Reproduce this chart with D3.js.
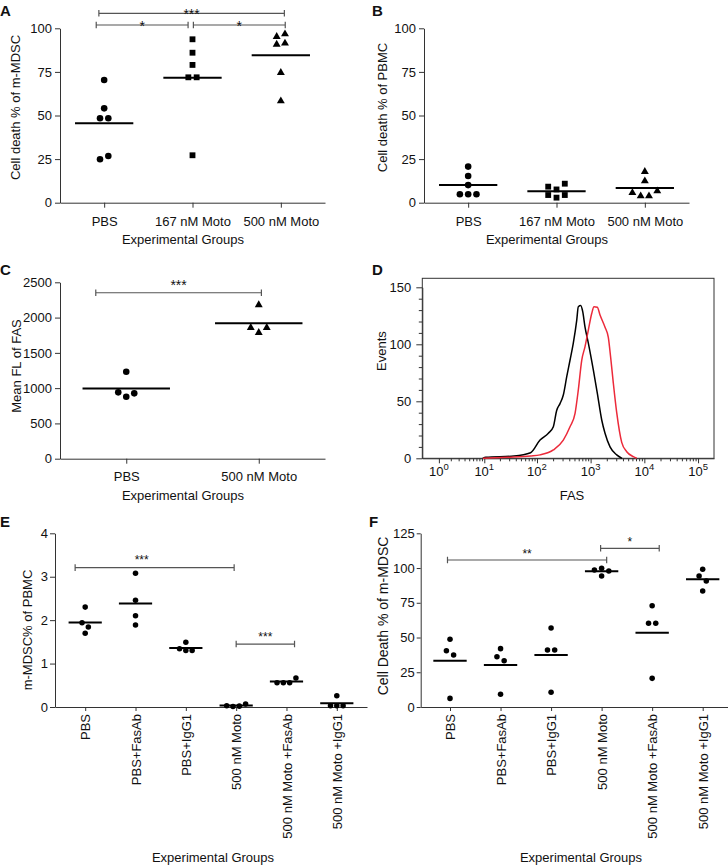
<!DOCTYPE html>
<html><head><meta charset="utf-8">
<script src="https://cdn.jsdelivr.net/npm/d3@7"></script>
<style>
body{margin:0;background:#fff;}
svg text{font-family:"Liberation Sans",Arial,Helvetica,sans-serif;fill:#111;}
</style></head><body>
<svg id="chart" width="728" height="866"></svg>
<script>
// ---------------- DATA ----------------
const groups3 = ["PBS", "167 nM Moto", "500 nM Moto"];
const groups2 = ["PBS", "500 nM Moto"];
const groups6 = ["PBS", "PBS+FasAb", "PBS+IgG1", "500 nM Moto", "500 nM Moto +FasAb", "500 nM Moto +IgG1"];

// A: Cell death % of m-MDSC
const aPBS = [70.4, 54.1, 48.4, 48.4, 24.9, 26.8];
const a167 = [93.7, 86.0, 79.0, 71.9, 71.9, 27.2];
const a500 = [95.2, 96.7, 90.8, 91.4, 74.6, 58.3];
const ticksPct = [0, 25, 50, 75, 100];
const bracketsA = [
  {a: "PBS", b: "500 nM Moto", v: 108.6, label: "***"},
  {a: "PBS", b: "167 nM Moto", v: 101.9, label: "*"},
  {a: "167 nM Moto", b: "500 nM Moto", v: 101.9, label: "*"}
];

// B: Cell death % of PBMC
const bPBS = [20.7, 15.3, 10.1, 4.8, 4.8, 4.8];
const b167 = [9.2, 7.6, 10.9, 4.4, 2.9, 4.4];
const b500 = [17.8, 12.4, 5.7, 3.8, 3.8, 6.7];

// C: Mean FL of FAS
const cPBS = [1233, 940, 879, 926];
const c500 = [2179, 1857, 1786, 1857];
const ticksC = [0, 500, 1000, 1500, 2000, 2500];
const bracketsC = [{a: "PBS", b: "500 nM Moto", v: 2352, label: "***"}];

// D: FAS histogram (FAS intensity, events)
const dBlackX = [9.4, 10.7, 37, 76, 114, 163, 202, 233, 269, 310, 359, 413, 476, 551, 590, 654, 713, 787, 907, 1123, 1334, 1610, 1855, 2298, 3062, 3843];
const dBlackY = [0, 0.9, 2, 4.9, 16, 22, 27.7, 42, 48, 55.5, 71.6, 86, 101, 121, 133, 134, 128.6, 115, 101, 77.5, 57, 33.6, 22, 10, 3, 0];
const dRedX = [9.4, 28, 76, 114, 202, 310, 413, 513, 590, 683, 787, 907, 1048, 1157, 1334, 1497, 1855, 2136, 2368, 2646, 3062, 3793, 4703, 6242, 7217];
const dRedY = [0, 0.9, 2, 3, 7.3, 16, 27.7, 39.5, 60, 86, 98, 112.5, 127, 133, 132.5, 125.7, 115, 106, 88, 66, 40, 14, 5.8, 1.4, 0];
const ticksD = [0, 50, 100, 150];
const decadesD = [1, 10, 100, 1000, 10000, 100000];

// E: m-MDSC% of PBMC
const ePBS = [2.30, 1.94, 1.84, 1.70];
const eFas = [3.08, 2.46, 2.10, 1.89];
const eIgG = [1.49, 1.34, 1.30, 1.30];
const eMoto = [0.03, 0.01, 0.02, 0.07];
const eMotoFas = [0.56, 0.56, 0.56, 0.67];
const eMotoIgG = [0.26, 0.03, 0.03, 0.03];
const ticksE = [0, 1, 2, 3, 4];
const bracketsE = [
  {a: "PBS", b: "500 nM Moto", v: 3.21, label: "***"},
  {a: "500 nM Moto", b: "500 nM Moto +FasAb", v: 1.45, label: "***"}
];

// F: Cell Death % of m-MDSC
const fPBS = [48.7, 40.5, 37.4, 6.2];
const fFas = [42.0, 36.2, 33.3, 9.1];
const fIgG = [56.9, 41.0, 41.0, 10.6];
const fMoto = [98.6, 99.8, 97.9, 94.3];
const fMotoFas = [72.9, 60.2, 60.2, 20.6];
const fMotoIgG = [99.1, 94.3, 90.7, 83.5];
const ticksF = [0, 25, 50, 75, 100, 125];
const bracketsF = [
  {a: "PBS", b: "500 nM Moto", v: 105.8, label: "**"},
  {a: "500 nM Moto", b: "500 nM Moto +FasAb", v: 114.2, label: "*"}
];

// ---------------- DRAWING ----------------
const svg = d3.select("#chart");
const FONT = '"Liberation Sans",Arial,Helvetica,sans-serif';
const AX = "#333";
const fmt = d3.format("d");

function styleAxis(g, fs) {
  g.attr("font-family", FONT).attr("font-size", fs);
  g.selectAll("path,line").attr("stroke", AX).attr("stroke-width", 1);
  g.selectAll("text").attr("fill", "#111").attr("font-size", fs);
}

function swarm(vals, y, gap, thr) {
  const idx = vals.map((v, i) => i).sort((a, b) => vals[b] - vals[a]);
  const off = new Array(vals.length).fill(0);
  let i = 0;
  while (i < idx.length) {
    const start = y(vals[idx[i]]);
    const cl = [idx[i]]; let j = i + 1;
    while (j < idx.length && Math.abs(y(vals[idx[j]]) - start) < thr) { cl.push(idx[j]); j++; }
    cl.sort((a, b) => a - b);
    cl.forEach((k, n) => off[k] = (n - (cl.length - 1) / 2) * gap);
    i = j;
  }
  return off;
}

function letter(t, x, y) {
  svg.append("text").attr("x", x).attr("y", y).attr("font-size", 15).attr("font-weight", "bold").text(t);
}

function dotPanel(o) {
  const g = svg.append("g");
  const y = d3.scaleLinear().domain([0, d3.max(o.ticks)]).range([o.bottom, o.top]);
  const x = d3.scalePoint().domain(o.cats).range([o.left, o.right]).padding(o.pad);
  const step = x.step();
  // axes
  const ya = g.append("g").attr("transform", `translate(${o.left},0)`)
    .call(d3.axisLeft(y).tickValues(o.ticks).tickFormat(fmt).tickSize(o.tickSize).tickSizeOuter(0).tickPadding(o.tickPadY));
  styleAxis(ya, o.fs);
  const xa = g.append("g").attr("transform", `translate(0,${o.bottom})`)
    .call(d3.axisBottom(x).tickSize(o.xTick).tickSizeOuter(0).tickPadding(o.tickPadX));
  styleAxis(xa, o.fs);
  if (o.rotate) {
    xa.selectAll(".tick text").attr("transform", "rotate(-90)").attr("text-anchor", "end")
      .attr("x", -(o.xTick + o.tickPadX)).attr("y", 0).attr("dy", "0.35em");
  }
  // points and means
  o.series.forEach((s, i) => {
    const cx = x(o.cats[i]);
    const off = swarm(s.vals, y, o.gap, 6);
    g.selectAll(null).data(s.vals).enter().append("path")
      .attr("d", d3.symbol().type(s.shape).size(s.shape === d3.symbolTriangle ? o.msize * 0.8 : o.msize))
      .attr("transform", (v, k) => `translate(${cx + off[k]},${y(v)})`)
      .attr("fill", "#000");
    const m = d3.mean(s.vals);
    g.append("line").attr("x1", cx - step * 0.33).attr("x2", cx + step * 0.33)
      .attr("y1", y(m)).attr("y2", y(m)).attr("stroke", "#000").attr("stroke-width", 2);
  });
  // brackets
  (o.brackets || []).forEach((b, i) => {
    const nd = o.nudges[i];
    const x1 = x(b.a) + nd[0] * step, x2 = x(b.b) + nd[1] * step, yy = y(b.v);
    g.append("path").attr("d", `M${x1},${yy - 3.3}V${yy + 3.3}M${x1},${yy}H${x2}M${x2},${yy - 3.3}V${yy + 3.3}`)
      .attr("stroke", "#555").attr("stroke-width", 1.2).attr("fill", "none");
    g.append("text").attr("x", (x1 + x2) / 2 + (nd[2] || 0)).attr("y", yy + o.starDy)
      .attr("text-anchor", "middle").attr("font-size", o.starFs).text(b.label);
  });
  // titles
  g.append("text").attr("transform", `translate(${o.yt[1]},${o.yt[2]}) rotate(-90)`)
    .attr("text-anchor", "middle").attr("dy", "0.35em").attr("font-size", o.yt[3]).text(o.yt[0]);
  g.append("text").attr("x", o.xt[0]).attr("y", o.xt[1]).attr("text-anchor", "middle")
    .attr("font-size", 13).text("Experimental Groups");
}

// Panel A
dotPanel({left: 60, right: 325, top: 28.3, bottom: 202.7, ticks: ticksPct, cats: groups3, pad: 0.5,
  series: [{vals: aPBS, shape: d3.symbolCircle}, {vals: a167, shape: d3.symbolSquare}, {vals: a500, shape: d3.symbolTriangle}],
  gap: 8.3, msize: 34, fs: 13, tickSize: 5, tickPadY: 3, xTick: 5, tickPadX: 9,
  brackets: bracketsA, nudges: [[-0.06, 0.04], [-0.09, -0.05], [0.01, 0.05]], starDy: 6, starFs: 14,
  yt: ["Cell death % of m-MDSC", 15.5, 107.5, 13], xt: [183, 243.5]});
letter("A", 0, 16);

// Panel B
dotPanel({left: 424, right: 689, top: 28.3, bottom: 202.7, ticks: ticksPct, cats: groups3, pad: 0.5,
  series: [{vals: bPBS, shape: d3.symbolCircle}, {vals: b167, shape: d3.symbolSquare}, {vals: b500, shape: d3.symbolTriangle}],
  gap: 8.3, msize: 34, fs: 13, tickSize: 5, tickPadY: 3, xTick: 5, tickPadX: 9,
  yt: ["Cell death % of PBMC", 382, 107.5, 13], xt: [547, 243.5]});
letter("B", 372, 16);

// Panel C
dotPanel({left: 60, right: 325, top: 282.3, bottom: 458.7, ticks: ticksC, cats: groups2, pad: 0.5,
  series: [{vals: cPBS, shape: d3.symbolCircle}, {vals: c500, shape: d3.symbolTriangle}],
  gap: 8, msize: 34, fs: 13, tickSize: 5, tickPadY: 3, xTick: 5, tickPadX: 8,
  brackets: bracketsC, nudges: [[-0.23, 0.02]], starDy: -3, starFs: 14,
  yt: ["Mean FL of FAS", 16.5, 366, 13], xt: [183, 500]});
letter("C", 0, 275);

// Panel D
(function () {
  const g = svg.append("g");
  const L = 422.3, R = 714, T = 278.3, B = 458.3;
  const x = d3.scaleSymlog().constant(0.5).domain([0.237, 198000]).range([L, R]);
  const y = d3.scaleLinear().domain([0, 150]).range([B, 287.3]);
  g.append("rect").attr("x", L).attr("y", T).attr("width", R - L).attr("height", B - T)
    .attr("fill", "none").attr("stroke", AX).attr("stroke-width", 1);
  const minorY = d3.range(0, 151, 10).filter(v => v % 50 !== 0);
  const ya = g.append("g").attr("transform", `translate(${L},0)`)
    .call(d3.axisLeft(y).tickValues(ticksD).tickFormat(fmt).tickSize(6).tickSizeOuter(0).tickPadding(5));
  styleAxis(ya, 13);
  const yb = g.append("g").attr("transform", `translate(${L},0)`)
    .call(d3.axisLeft(y).tickValues(minorY).tickSize(3.5).tickSizeOuter(0).tickFormat(""));
  styleAxis(yb, 13); yb.select(".domain").remove();
  const minorX = [];
  decadesD.forEach(d => { for (let k = 2; k <= 9; k++) if (d * k < 198000) minorX.push(d * k); });
  const xb = g.append("g").attr("transform", `translate(0,${B})`)
    .call(d3.axisBottom(x).tickValues(minorX).tickSize(3).tickSizeOuter(0).tickFormat(""));
  styleAxis(xb, 13); xb.select(".domain").remove();
  const xa = g.append("g").attr("transform", `translate(0,${B})`)
    .call(d3.axisBottom(x).tickValues(decadesD).tickSize(5).tickSizeOuter(0).tickFormat(""));
  styleAxis(xa, 13);
  decadesD.forEach(d => {
    const t = g.append("text").attr("x", x(d)).attr("y", 475.5).attr("text-anchor", "middle").attr("font-size", 13);
    t.append("tspan").text("10");
    t.append("tspan").attr("dy", -6).attr("font-size", 9.5).text(String(Math.round(Math.log10(d))));
  });
  const line = d3.line().x(p => x(p[0])).y(p => y(p[1])).curve(d3.curveMonotoneX);
  g.append("path").attr("d", line(dBlackX.map((v, i) => [v, dBlackY[i]])))
    .attr("fill", "none").attr("stroke", "#000").attr("stroke-width", 1.5);
  g.append("path").attr("d", line(dRedX.map((v, i) => [v, dRedY[i]])))
    .attr("fill", "none").attr("stroke", "#ec2a3a").attr("stroke-width", 1.5);
  g.append("text").attr("transform", "translate(381.5,351) rotate(-90)").attr("text-anchor", "middle")
    .attr("dy", "0.35em").attr("font-size", 13).text("Events");
  g.append("text").attr("x", 572).attr("y", 500).attr("text-anchor", "middle").attr("font-size", 13).text("FAS");
})();
letter("D", 372, 275);

// Panel E
dotPanel({left: 55, right: 367, top: 533.3, bottom: 707, ticks: ticksE, cats: groups6, pad: 0.6, rotate: true,
  series: [ePBS, eFas, eIgG, eMoto, eMotoFas, eMotoIgG].map(v => ({vals: v, shape: d3.symbolCircle})),
  gap: 6.3, msize: 24, fs: 13, tickSize: 5, tickPadY: 2, xTick: 4, tickPadX: 3,
  brackets: bracketsE, nudges: [[-0.2, -0.04, -13], [0, 0.16]], starDy: -3.3, starFs: 12,
  yt: ["m-MDSC% of PBMC", 27.5, 630, 13], xt: [213, 862]});
letter("E", 0, 527);

// Panel F
dotPanel({left: 420.7, right: 732, top: 533.3, bottom: 707, ticks: ticksF, cats: groups6, pad: 0.58, rotate: true,
  series: [fPBS, fFas, fIgG, fMoto, fMotoFas, fMotoIgG].map(v => ({vals: v, shape: d3.symbolCircle})),
  gap: 7.2, msize: 24, fs: 13, tickSize: 4, tickPadY: 2, xTick: 4, tickPadX: 3,
  brackets: bracketsF, nudges: [[-0.05, 0.1], [-0.02, 0.14]], starDy: -2, starFs: 12,
  yt: ["Cell Death % of m-MDSC", 383, 616, 14], xt: [581, 862]});
letter("F", 369, 527);
</script>
</body></html>
